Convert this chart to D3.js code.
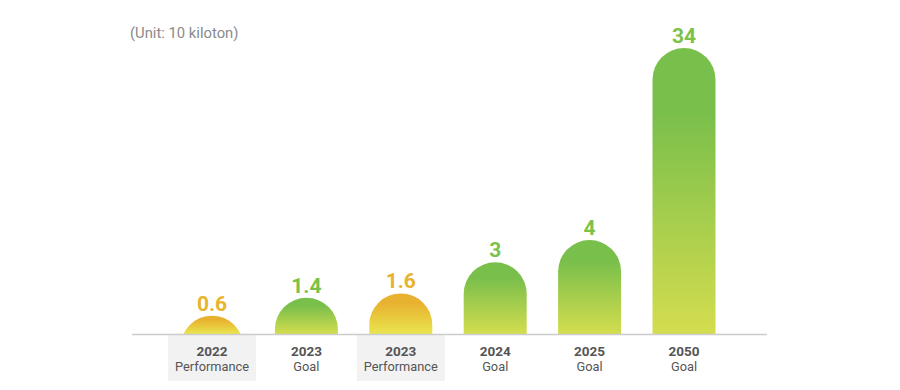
<!DOCTYPE html>
<html><head><meta charset="utf-8">
<script src="https://cdn.jsdelivr.net/npm/d3@7/dist/d3.min.js"></script>
<style>body{margin:0;background:#fff}svg{display:block}text{font-family:Roboto,"Noto Sans",sans-serif}</style>
</head><body><div id="chart"></div>
<script>
const years = ["2022", "2023", "2023", "2024", "2025", "2050"];
const kinds = ["Performance", "Goal", "Performance", "Goal", "Goal", "Goal"];
const values = [0.6, 1.4, 1.6, 3, 4, 34];
const valueLabels = ["0.6", "1.4", "1.6", "3", "4", "34"];
const unitLabel = "(Unit: 10 kiloton)";
const yBreaks = [0, 4, 34];

const W = 900, H = 390, base = 334;
const svg = d3.select("#chart").append("svg").attr("width", W).attr("height", H);
const defs = svg.append("defs");
const idx = values.map((d, i) => i);

const x = d3.scalePoint().domain(idx).range([212, 684]);
const y = d3.scaleLinear().domain(yBreaks).range([329, 240, 48]);
const r = 31.5;

const colors = {
  Goal: {top: "#79bf4b", bot: "#d4dd4f", text: "#7bc24a"},
  Performance: {top: "#e8b12f", bot: "#e9e54e", text: "#e8b42e"}
};

svg.append("text").attr("x", 130).attr("y", 38).attr("fill", "#8a8a8a")
  .attr("font-size", 14.8).text(unitLabel);

svg.selectAll("rect.bg").data(idx.filter(i => kinds[i] === "Performance")).join("rect")
  .attr("x", i => x(i) - 44).attr("y", base + 1).attr("width", 88).attr("height", 46)
  .attr("fill", "#f2f2f2");

defs.append("clipPath").attr("id", "above").append("rect")
  .attr("x", 0).attr("y", 0).attr("width", W).attr("height", base);

idx.forEach(i => {
  const top = y(values[i]);
  const c = colors[kinds[i]];
  const g = defs.append("linearGradient").attr("id", "g" + i)
    .attr("gradientUnits", "userSpaceOnUse")
    .attr("x1", 0).attr("x2", 0).attr("y1", top).attr("y2", base);
  g.append("stop").attr("offset", 0).attr("stop-color", c.top);
  g.append("stop").attr("offset", 0.22).attr("stop-color", c.top);
  g.append("stop").attr("offset", 1).attr("stop-color", c.bot);
});

svg.append("g").attr("clip-path", "url(#above)")
  .selectAll("rect").data(idx).join("rect")
  .attr("x", i => x(i) - r).attr("width", 2 * r)
  .attr("y", i => y(values[i]))
  .attr("height", i => base - y(values[i]) + 2 * r)
  .attr("rx", r).attr("ry", r)
  .attr("fill", i => `url(#g${i})`);

svg.append("line").attr("x1", 132).attr("x2", 767).attr("y1", base + 0.5).attr("y2", base + 0.5)
  .attr("stroke", "#cccccc").attr("stroke-width", 1.5);

svg.selectAll("text.val").data(idx).join("text").attr("class", "val")
  .attr("x", i => x(i)).attr("y", i => y(values[i]) - 5)
  .attr("text-anchor", "middle").attr("font-size", 21).attr("font-weight", 700)
  .attr("fill", i => colors[kinds[i]].text).text(i => valueLabels[i]);

const lab = svg.selectAll("g.lab").data(idx).join("g").attr("class", "lab")
  .attr("transform", i => `translate(${x(i)},0)`);
lab.append("text").attr("y", 356).attr("text-anchor", "middle").attr("font-size", 13.5)
  .attr("font-weight", 700).attr("fill", "#555").text(i => years[i]);
lab.append("text").attr("y", 371).attr("text-anchor", "middle").attr("font-size", 12.8)
  .attr("fill", "#555").text(i => kinds[i]);
</script></body></html>
